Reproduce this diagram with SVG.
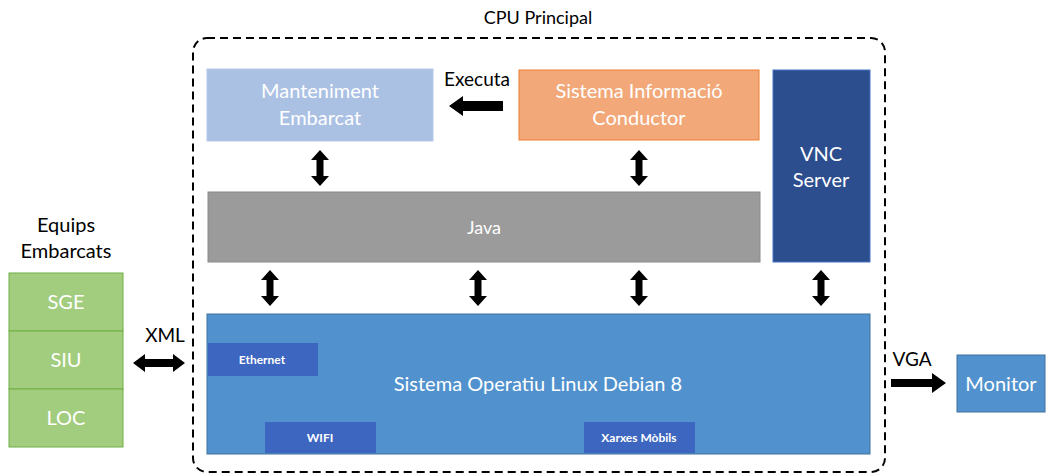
<svg xmlns="http://www.w3.org/2000/svg" width="1046" height="475" viewBox="0 0 1046 475">
<style>
text{font-family:Lato,"Open Sans","Liberation Sans",sans-serif;text-anchor:middle}
.w{fill:#fff;font-size:20px}
.ws{fill:#fff;font-size:12px;font-weight:bold}
.b{fill:#000;font-size:19px}
.arr{fill:#000}
.green{fill:#a2cd7e;stroke:#70ad47;stroke-width:1}
.blue{fill:#5192ce;stroke:#41719c;stroke-width:1}
.sub{fill:#3c66bf}
</style>
<defs>
<path id="vd" d="M0,0 L9,10 L3.5,10 L3.5,26 L9,26 L0,36 L-9,26 L-3.5,26 L-3.5,10 L-9,10 Z"/>
</defs>
<g id="cpu">
<rect x="193" y="38" width="692" height="434" rx="14" fill="none" stroke="#000" stroke-width="2" stroke-dasharray="8,5"/>
<text class="b" x="538" y="24" style="font-size:18px">CPU Principal</text>
</g>
<g id="manteniment">
<rect x="207" y="69" width="226" height="72" fill="#abc1e4" stroke="#b4c7e7"/>
<text class="w" x="320" y="98">Manteniment</text>
<text class="w" x="320" y="125">Embarcat</text>
</g>
<g id="sic">
<rect x="519" y="70" width="240" height="70" fill="#f2a878" stroke="#ed7d31"/>
<text class="w" x="639" y="98">Sistema Informació</text>
<text class="w" x="639" y="125">Conductor</text>
</g>
<g id="vnc">
<rect x="773" y="70" width="97" height="192" fill="#2c4d8e" stroke="#4472c4"/>
<text class="w" x="821" y="161">VNC</text>
<text class="w" x="821" y="187">Server</text>
</g>
<g id="java">
<rect x="208" y="192" width="552" height="70" fill="#9b9b9b" stroke="#8a8a8a"/>
<text class="w" x="484" y="234" style="font-size:18px">Java</text>
</g>
<g id="os">
<rect x="207" y="314" width="663" height="140" class="blue"/>
<text class="w" x="538" y="391">Sistema Operatiu Linux Debian 8</text>
<rect id="ethernet" x="208" y="343" width="110" height="33" class="sub"/>
<text class="ws" x="262" y="364">Ethernet</text>
<rect id="wifi" x="265" y="422" width="111" height="31" class="sub"/>
<text class="ws" x="320" y="442">WIFI</text>
<rect id="xarxes" x="584" y="422" width="111" height="31" class="sub"/>
<text class="ws" x="639" y="442">Xarxes Mòbils</text>
</g>
<g id="equips">
<text class="b" x="66" y="232" style="font-size:20px">Equips</text>
<text class="b" x="66" y="258" style="font-size:20px">Embarcats</text>
<rect x="9" y="273" width="114" height="58" class="green"/>
<text class="w" x="66" y="309">SGE</text>
<rect x="9" y="331" width="114" height="58" class="green"/>
<text class="w" x="66" y="367">SIU</text>
<rect x="9" y="389" width="114" height="58" class="green"/>
<text class="w" x="66" y="425">LOC</text>
</g>
<g id="monitor">
<rect x="957" y="355" width="88" height="57" class="blue"/>
<text class="w" x="1001" y="391">Monitor</text>
</g>
<g id="connectors">
<text class="b" x="477" y="86">Executa</text>
<path class="arr" d="M449,106 L463,96 L463,101 L503,101 L503,111 L463,111 L463,116 Z"/>
<use href="#vd" class="arr" x="320" y="150"/>
<use href="#vd" class="arr" x="639" y="150"/>
<use href="#vd" class="arr" x="270" y="270"/>
<use href="#vd" class="arr" x="478" y="270"/>
<use href="#vd" class="arr" x="639" y="270"/>
<use href="#vd" class="arr" x="821" y="270"/>
<text class="b" x="165" y="342">XML</text>
<path class="arr" d="M133,363 L145,354 L145,359 L173,359 L173,354 L185,363 L173,372 L173,367 L145,367 L145,372 Z"/>
<text class="b" x="912" y="366">VGA</text>
<path class="arr" d="M891,379 L932,379 L932,373 L946,383 L932,393 L932,387 L891,387 Z"/>
</g>
</svg>
